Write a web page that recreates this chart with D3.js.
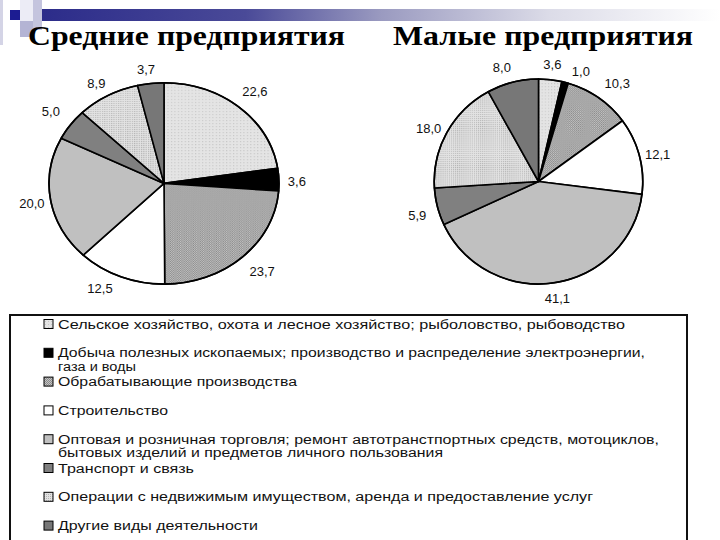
<!DOCTYPE html>
<html><head><meta charset="utf-8">
<script src="https://cdn.jsdelivr.net/npm/d3@7"></script>
<style>html,body{margin:0;padding:0;background:#fff;}svg{display:block;}</style>
</head><body>
<script>
// ---- data ----
const categories = [
  "Сельское хозяйство, охота и лесное хозяйство; рыболовство, рыбоводство",
  "Добыча полезных ископаемых; производство и распределение электроэнергии, газа и воды",
  "Обрабатывающие производства",
  "Строительство",
  "Оптовая и розничная торговля; ремонт автотранстпортных средств, мотоциклов, бытовых изделий и предметов личного пользования",
  "Транспорт и связь",
  "Операции с недвижимым имуществом, аренда и предоставление услуг",
  "Другие виды деятельности"
];
const legendLines = [
  ["Сельское хозяйство, охота и лесное хозяйство; рыболовство, рыбоводство"],
  ["Добыча полезных ископаемых; производство и распределение электроэнергии,", "газа и воды"],
  ["Обрабатывающие производства"],
  ["Строительство"],
  ["Оптовая и розничная торговля; ремонт автотранстпортных средств, мотоциклов,", "бытовых изделий и предметов личного пользования"],
  ["Транспорт и связь"],
  ["Операции с недвижимым имуществом, аренда и предоставление услуг"],
  ["Другие виды деятельности"]
];
const titles = ["Средние предприятия", "Малые предприятия"];
const mediumValues = [22.6, 3.6, 23.7, 12.5, 20.0, 5.0, 8.9, 3.7];
const smallValues  = [3.6, 1.0, 10.3, 12.1, 41.1, 5.9, 18.0, 8.0];

// ---- layout / style ----
const W = 720, H = 540;
const fills = ["url(#pAgri)", "#000000", "url(#pManuf)", "#ffffff", "#c0c0c0", "#808080", "url(#pOper)", "#777777"];
const legendWidths = [[567], [587, 78], [239], [110], [601, 385], [136], [535], [200]];
// small label nudges (px) to mimic the hand placement of the original labels
const mediumNudge = [[1, 0], [-5, 3], [4, 0], [-12, -7], [4, 0], [-1, -2], [0, 5], [-2, 6]];
const smallNudge  = [[0, 0], [11, 4], [8, -2], [0, 0], [0, -6], [-2, 1], [-2, 2], [-6, 0]];
const pies = [
  {values: mediumValues, nudge: mediumNudge, cx: 164, cy: 183.4, rx: 115, ry: 100.7, k: 1.2, dy: 0, title: titles[0], tx: 28, tw: 317},
  {values: smallValues,  nudge: smallNudge,  cx: 538.5, cy: 181.5, rx: 104.3, ry: 102.5, k: 1.18, dy: 3, title: titles[1], tx: 393, tw: 300}
];

const locale = d3.formatLocale({decimal: ",", thousands: " ", grouping: [3], currency: ["", ""]});
const fmt = locale.format(".1f");

const svg = d3.select("body").append("svg").attr("width", W).attr("height", H);
const defs = svg.append("defs");

// patterns
const pa = defs.append("pattern").attr("id", "pAgri").attr("patternUnits", "userSpaceOnUse").attr("width", 3).attr("height", 3);
pa.append("rect").attr("width", 3).attr("height", 3).attr("fill", "#e4e4e4");
pa.append("rect").attr("width", 1).attr("height", 1).attr("fill", "#c6c6c6");
const pm = defs.append("pattern").attr("id", "pManuf").attr("patternUnits", "userSpaceOnUse").attr("width", 2).attr("height", 2);
pm.append("rect").attr("width", 2).attr("height", 2).attr("fill", "#c4c4c4");
pm.append("rect").attr("width", 1).attr("height", 1).attr("fill", "#8a8a8a");
pm.append("rect").attr("x", 1).attr("y", 1).attr("width", 1).attr("height", 1).attr("fill", "#8a8a8a");
const po = defs.append("pattern").attr("id", "pOper").attr("patternUnits", "userSpaceOnUse").attr("width", 2).attr("height", 2);
po.append("rect").attr("width", 2).attr("height", 2).attr("fill", "#e2e2e2");
po.append("rect").attr("width", 1).attr("height", 1).attr("fill", "#b4b4b4");

// template background
const grad = defs.append("linearGradient").attr("id", "band").attr("x1", "0%").attr("x2", "100%");
[[0, "#2c2c8a"], [0.3, "#4a4a98"], [0.5, "#9a9ac0"], [0.75, "#dcdce8"], [1, "#ffffff"]].forEach(s =>
  grad.append("stop").attr("offset", s[0]).attr("stop-color", s[1]));
const bg = svg.append("g");
bg.append("rect").attr("x", 0).attr("y", 0).attr("width", 3).attr("height", 45).attr("fill", "#d4d4e6");
bg.append("rect").attr("x", 20).attr("y", 0).attr("width", 13).attr("height", 30).attr("fill", "#ececf6");
bg.append("rect").attr("x", 33).attr("y", 0).attr("width", 9).attr("height", 30).attr("fill", "#c4c4de");
bg.append("rect").attr("x", 42).attr("y", 9).attr("width", 678).attr("height", 12).attr("fill", "url(#band)");
bg.append("rect").attr("x", 20).attr("y", 21).attr("width", 13).attr("height", 16).attr("fill", "#b4b4d4");
bg.append("rect").attr("x", 10).attr("y", 10).attr("width", 10).attr("height", 10).attr("fill", "#1c1c92");

// pies
const R = 100;
const pie = d3.pie().sort(null).value(d => d);
const arc = d3.arc().innerRadius(0).outerRadius(R);

pies.forEach(p => {
  const sx = p.rx / R, sy = p.ry / R;
  const arcs = pie(p.values);
  const g = svg.append("g").attr("transform", `translate(${p.cx},${p.cy}) scale(${sx},${sy})`);
  g.selectAll("path").data(arcs).join("path")
    .attr("d", arc)
    .attr("fill", (d, i) => fills[i])
    .attr("stroke", "#000")
    .attr("stroke-width", 1.6)
    .attr("stroke-linejoin", "round")
    .attr("vector-effect", "non-scaling-stroke");
  g.append("circle").attr("r", R).attr("fill", "none").attr("stroke", "#000")
    .attr("stroke-width", 1.6).attr("vector-effect", "non-scaling-stroke");

  const labelArc = d3.arc().innerRadius(R * p.k).outerRadius(R * p.k);
  svg.append("g").selectAll("text").data(arcs).join("text")
    .attr("x", (d, i) => p.cx + labelArc.centroid(d)[0] * sx + p.nudge[i][0])
    .attr("y", (d, i) => p.cy + labelArc.centroid(d)[1] * sy + p.dy + p.nudge[i][1])
    .attr("dy", "0.35em")
    .attr("text-anchor", "middle")
    .attr("font-family", "Liberation Sans, Arial, sans-serif")
    .attr("font-size", 13)
    .attr("fill", "#111")
    .text(d => fmt(d.data));

  svg.append("text")
    .attr("x", p.tx).attr("y", 45)
    .attr("font-family", "Liberation Serif, Times New Roman, serif")
    .attr("font-weight", "bold")
    .attr("font-size", 27)
    .attr("fill", "#000")
    .attr("textLength", p.tw)
    .attr("lengthAdjust", "spacingAndGlyphs")
    .text(p.title);
});

// legend
const lg = svg.append("g");
lg.append("rect").attr("x", 10).attr("y", 315).attr("width", 677).attr("height", 240)
  .attr("fill", "#fff").attr("stroke", "#111").attr("stroke-width", 2);
const y0 = 324, step = 28.8, lineH = 13.5;
legendLines.forEach((lines, i) => {
  const y = y0 + i * step;
  lg.append("rect").attr("x", 44).attr("y", y - 4.5).attr("width", 9).attr("height", 9)
    .attr("fill", fills[i]).attr("stroke", "#000").attr("stroke-width", 1);
  lines.forEach((t, j) => {
    lg.append("text")
      .attr("x", 58).attr("y", y + j * lineH)
      .attr("dy", "0.36em")
      .attr("font-family", "Liberation Sans, Arial, sans-serif")
      .attr("font-size", 12.5)
      .attr("fill", "#111")
      .attr("textLength", legendWidths[i][j])
      .attr("lengthAdjust", "spacingAndGlyphs")
      .text(t);
  });
});
</script>
</body></html>
